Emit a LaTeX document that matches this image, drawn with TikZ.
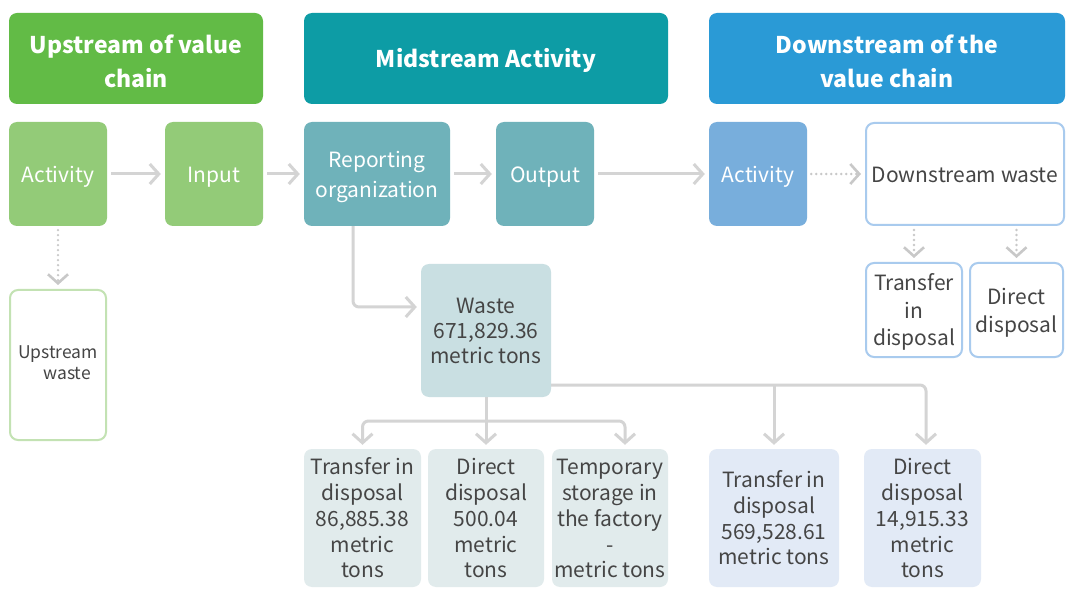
\documentclass[tikz,border=0pt]{standalone}
\usepackage{fontspec}
\setmainfont{Noto Sans CJK SC}
\usetikzlibrary{arrows.meta}
\definecolor{hgreen}{HTML}{62BB46}
\definecolor{hteal}{HTML}{0D9CA5}
\definecolor{hblue}{HTML}{2A9AD6}
\definecolor{lgreen}{HTML}{93CB78}
\definecolor{lteal}{HTML}{6FB2BA}
\definecolor{lblue}{HTML}{78AEDC}
\definecolor{bblue}{HTML}{A9CBEE}
\definecolor{bgreen}{HTML}{C3E2B3}
\definecolor{wastefill}{HTML}{C9DFE2}
\definecolor{graybox}{HTML}{E1EBEC}
\definecolor{bluebox}{HTML}{E2EAF6}
\definecolor{arrc}{HTML}{D4D4D4}
\definecolor{dotc}{HTML}{C8C8C8}
\definecolor{txt}{HTML}{454545}
\newcommand\mystrut[1]{\rule[-0.273\dimexpr#1pt\relax]{0pt}{\dimexpr0.984\dimexpr#1pt\relax+7.5pt\relax}}
\newcommand\fl{\mystrut{21}}
\newcommand\flh{\rule{0pt}{\dimexpr0.984\dimexpr23pt\relax+7pt\relax}}
\begin{document}
\begin{tikzpicture}[x=1pt,y=-1pt,
  box/.style={rounded corners=8pt, inner sep=0pt, align=center,
     execute at begin node={\mystrut{#1}}, execute at end node={\mystrut{#1}}},
  hdr/.style={box=23, text=white, minimum height=91pt, font=\bfseries\fontsize{23}{34}\selectfont},
  midbox/.style={box=21, text=white, minimum height=104pt, font=\fontsize{21}{30}\selectfont},
  lowbox/.style={box=21, text=txt, minimum height=138pt, font=\fontsize{21}{25.75}\selectfont},
  smallbox/.style={box=21, text=txt, draw=bblue, line width=2pt, fill=white, minimum height=94pt, font=\fontsize{21}{27.5}\selectfont},
  arr/.style={draw=arrc, line width=3pt, -{Straight Barb[length=9pt,width=20pt]}, shorten <=4pt, shorten >=4pt},
  dotarr/.style={arr, draw=dotc, line width=2.6pt, dash pattern=on 0pt off 5pt, line cap=round}
]
\fill[white] (0,0) rectangle (1077,596);

% headers
\node[hdr, fill=hgreen, minimum width=254pt] (h1) at (136,58.5) {\flh Upstream of value\\chain};
\node[hdr, fill=hteal, minimum width=364pt] (h2) at (486,58.5) {Midstream Activity};
\node[hdr, fill=hblue, minimum width=356pt] (h3) at (887,58.5) {\flh Downstream of the\\value chain};

% row 2
\node[midbox, fill=lgreen, minimum width=98pt] (act1) at (58,174) {Activity};
\node[midbox, fill=lgreen, minimum width=98pt] (inp) at (214,174) {Input};
\node[midbox, fill=lteal, minimum width=146pt] (rep) at (377,174) {\fl Reporting\\organization};
\node[midbox, fill=lteal, minimum width=98pt] (out) at (545,174) {Output};
\node[midbox, fill=lblue, minimum width=98pt] (act2) at (758,174) {Activity};
\node[box=21, draw=bblue, line width=2pt, fill=white, text=txt, minimum width=198pt, minimum height=102pt,
      font=\fontsize{21}{30}\selectfont] (dsw) at (965,174) {Downstream waste};

% upstream waste
\node[box=17.5, draw=bgreen, line width=2pt, fill=white, text=txt, minimum width=96pt, minimum height=150pt,
      font=\fontsize{17.5}{20.5}\selectfont, align=left] (upw) at (58,365) {Upstream\\\hspace*{1.45em}waste};

% waste
\node[box=21, fill=wastefill, text=txt, minimum width=130pt, minimum height=133pt,
      font=\fontsize{21}{25}\selectfont] (waste) at (486,330.5) {\fl Waste\\671,829.36\\metric tons};

% downstream small boxes
\node[smallbox, minimum width=96pt] (s1) at (914,310) {\fl Transfer\\in\\disposal};
\node[smallbox, minimum width=93pt] (s2) at (1016.5,310) {\fl Direct\\disposal};

% bottom boxes
\node[lowbox, fill=graybox, minimum width=117pt] (b1) at (362.5,518) {\fl Transfer in\\disposal\\86,885.38\\metric\\tons};
\node[lowbox, fill=graybox, minimum width=116pt] (b2) at (486,518) {\fl Direct\\disposal\\500.04\\metric\\tons};
\node[lowbox, fill=graybox, minimum width=116pt] (b3) at (610,518) {\fl Temporary\\storage in\\the factory\\-\\metric tons};
\node[lowbox, fill=bluebox, minimum width=130pt] (b4) at (774,518) {\fl Transfer in\\disposal\\569,528.61\\metric tons};
\node[lowbox, fill=bluebox, minimum width=117pt] (b5) at (922.5,518) {\fl Direct\\disposal\\14,915.33\\metric\\tons};

% connectors row 2
\draw[arr] (act1) -- (inp);
\draw[arr] (inp) -- (rep);
\draw[arr] (rep) -- (out);
\draw[arr] (out) -- (act2);
\draw[dotarr] (act2) -- (dsw);
\draw[dotarr] (act1) -- (upw);
\draw[dotarr] (s1.north |- dsw.south) -- (s1.north);
\draw[dotarr] (s2.north |- dsw.south) -- (s2.north);

% reporting -> waste
\draw[arr, rounded corners=6pt, shorten <=0pt] ([xshift=-24pt]rep.south) |- ([yshift=23.5pt]waste.west);

% waste -> bottom
\coordinate (j1) at (486,421);
\coordinate (j2) at (551,385);
\draw[arr, shorten <=0pt] (waste.south) -- (b2.north);
\draw[arr, rounded corners=6pt, shorten <=0pt] (j1) -| (b1.north);
\draw[arr, rounded corners=6pt, shorten <=0pt] (j1) -| ([xshift=15pt]b3.north);
\draw[arr, rounded corners=6pt, shorten <=0pt] (j2) -| ([xshift=3.5pt]b5.north);
\draw[arr, shorten <=0pt] (b4.north |- j2) -- (b4.north);
\end{tikzpicture}
\end{document}
